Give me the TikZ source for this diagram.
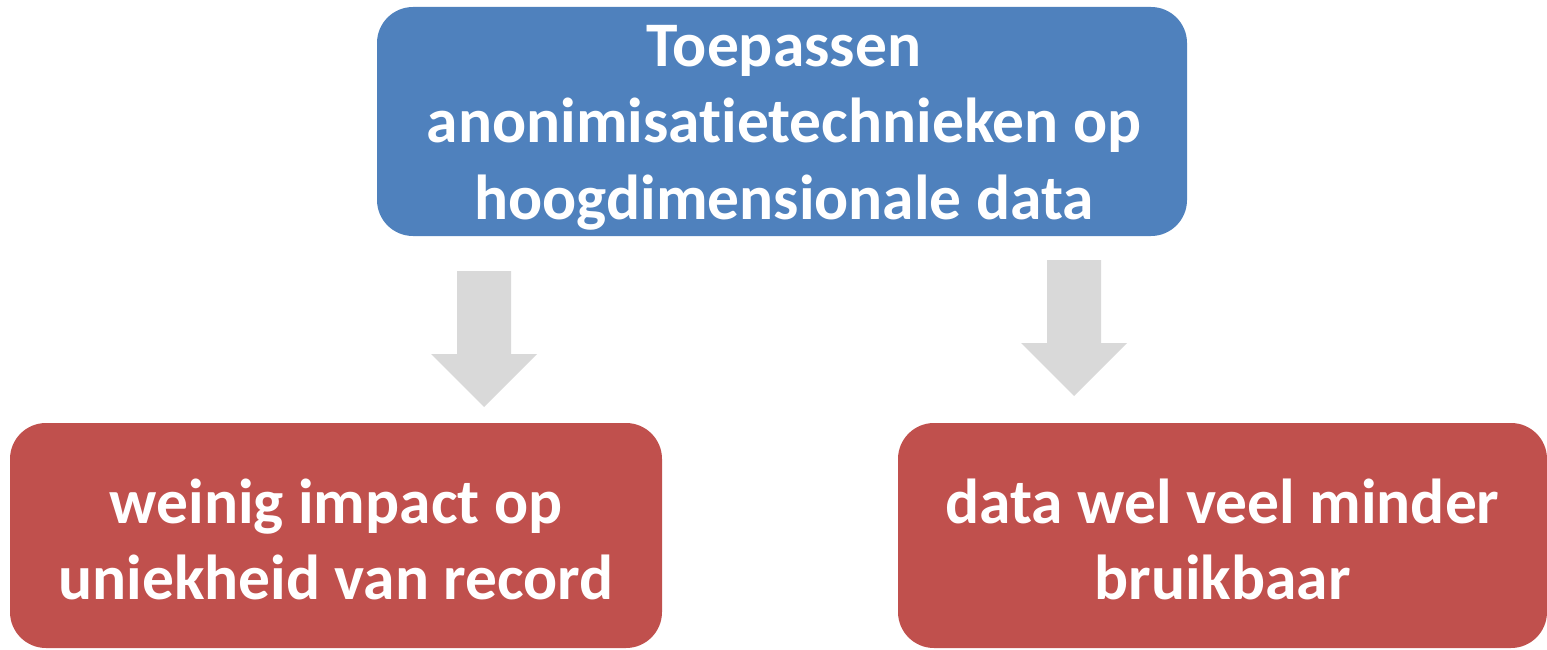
\documentclass[tikz,border=0pt]{standalone}
\usepackage{fontspec}
\setmainfont{Carlito}[Ligatures=NoCommon]
\definecolor{boxblue}{HTML}{4F81BD}
\definecolor{boxred}{HTML}{C0504D}
\definecolor{arrowgray}{HTML}{D9D9D9}
\begin{document}
\begin{tikzpicture}[x=1pt,y=-1pt,
  panel/.style={rounded corners=36pt, inner sep=0pt},
  bluepanel/.style={panel, fill=boxblue, minimum width=810pt, minimum height=229pt},
  redpanel/.style={panel, fill=boxred, minimum width=652pt, minimum height=225pt},
  paneltext/.style={inner sep=0pt, align=center, text=white,
    font=\fontsize{63.5}{76.5}\selectfont\bfseries},
  blockarrow/.style={fill=arrowgray, draw=none}]
\useasboundingbox (0,0) rectangle (1547,650);

% coloured panels
\node[bluepanel] (top) at (782,121.5) {};
\node[redpanel] (left) at (336,535.5) {};
\node[redpanel, minimum width=649pt] (right) at (1222.5,535.5) {};

% panel texts
\node[paneltext] (toptext) at ([xshift=2pt,yshift=-6pt]top.center)
  {Toepassen\\anonimisatietechnieken op\\hoogdimensionale data};
\node[paneltext] (lefttext) at ([yshift=-4pt]left.center)
  {weinig impact op\\uniekheid van record};
\node[paneltext] (righttext) at ([yshift=-4pt]right.center)
  {data wel veel minder\\bruikbaar};

% down arrows between the panels: shaft 54 wide, head 106 wide and 53 long
\coordinate (la) at (484,271);
\coordinate (ra) at (1074,260);
\foreach \c in {la,ra}{
  \fill[blockarrow] (\c) ++(-27,0) -- ++(54,0) -- ++(0,83) -- ++(26,0)
    -- ++(-53,53) -- ++(-53,-53) -- ++(26,0) -- cycle;
}
\end{tikzpicture}
\end{document}
